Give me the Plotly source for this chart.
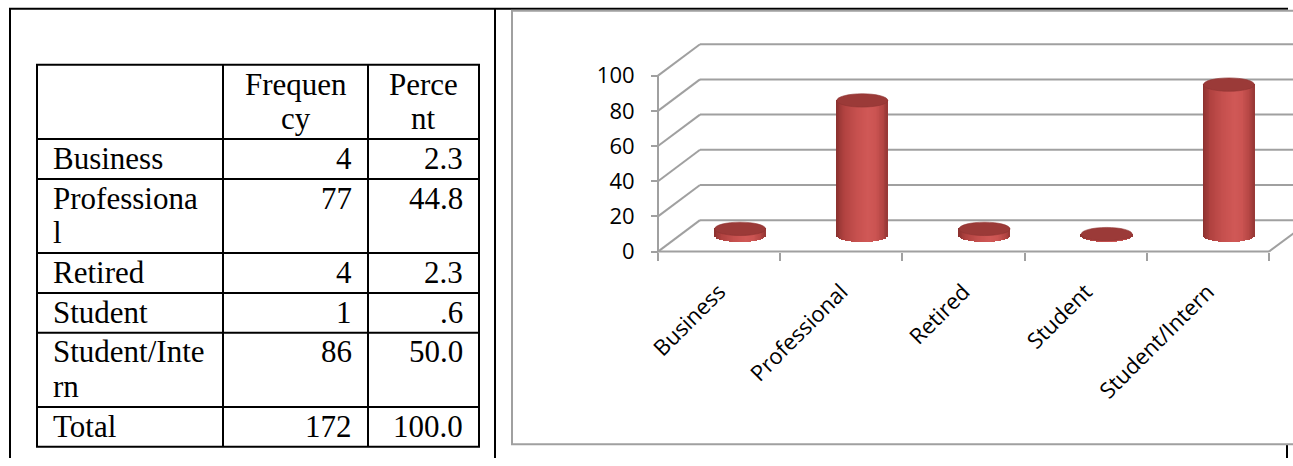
import numpy as np
import plotly.graph_objects as go

# ---- data ---------------------------------------------------------------
categories = ["Business", "Professional", "Retired", "Student", "Student/Intern"]
frequency = [4, 77, 4, 1, 86]
percent = [2.3, 44.8, 2.3, 0.6, 50.0]
y_ticks = [0, 20, 40, 60, 80, 100]

# cell text as it wraps inside the narrow table columns
header_lines = [[], ["Frequen", "cy"], ["Perce", "nt"]]
row_label_lines = [["Business"], ["Professiona", "l"], ["Retired"], ["Student"],
                   ["Student/Inte", "rn"], ["Total"]]

W, H = 1293, 466


def fx(px):
    return px / W


def fy(py):
    return 1 - py / H


def fmt_pct(v):
    s = f"{v:.1f}"
    return s[1:] if s.startswith("0.") else s


freq_text = [str(v) for v in frequency] + [str(sum(frequency))]
pct_text = [fmt_pct(v) for v in percent] + [fmt_pct(round(sum(percent), 1))]

fig = go.Figure()
shapes = []
annotations = []

# ---- page frame ------------------------------------------------------------
BLACK = "#000000"
for x0, y0, x1, y1 in [(9, 9, 1288, 9), (10, 9, 10, H), (495, 9, 495, H), (1287, 452, 1287, H)]:
    shapes.append(dict(type="line", xref="paper", yref="paper", x0=fx(x0), y0=fy(y0),
                       x1=fx(x1), y1=fy(y1), line=dict(color=BLACK, width=2)))

# ---- frequency table -------------------------------------------------------
TAB_FONT = dict(family="Liberation Serif, Times New Roman, serif", size=31, color="#000000")
col_edges = [37, 223, 368, 479]
LINE_STEP = 35
rows = [header_lines] + [[lbl, [f], [p]] for lbl, f, p in zip(row_label_lines, freq_text, pct_text)]

row_edges = [66.0]
for r in rows:
    n = max(len(c) for c in r)
    row_edges.append(row_edges[-1] + 5.5 + LINE_STEP * n)

for y in row_edges:
    shapes.append(dict(type="line", xref="paper", yref="paper", x0=fx(col_edges[0] - 1), x1=fx(col_edges[-1] + 1),
                       y0=fy(y), y1=fy(y), line=dict(color=BLACK, width=2)))
for x in col_edges:
    shapes.append(dict(type="line", xref="paper", yref="paper", x0=fx(x), x1=fx(x),
                       y0=fy(row_edges[0]), y1=fy(row_edges[-1]), line=dict(color=BLACK, width=2)))


def add_cell(lines, top, x, anchor):
    for k, t in enumerate(lines):
        base = top + 30 + LINE_STEP * k
        annotations.append(dict(text=t, xref="paper", yref="paper", x=fx(x), y=fy(base - 0.3375 * TAB_FONT["size"]),
                                xanchor=anchor, yanchor="middle", showarrow=False, font=TAB_FONT))


for i, r in enumerate(rows):
    top = row_edges[i]
    if i == 0:
        add_cell(r[1], top, (col_edges[1] + col_edges[2]) / 2, "center")
        add_cell(r[2], top, (col_edges[2] + col_edges[3]) / 2, "center")
    else:
        add_cell(r[0], top, 51, "left")
        add_cell(r[1], top, col_edges[2] - 14, "right")
        add_cell(r[2], top, col_edges[3] - 14, "right")

# ---- 3-D cylinder chart ------------------------------------------------------
GRID = "#a0a0a0"
# chart area border
shapes.append(dict(type="rect", xref="paper", yref="paper", x0=fx(512), x1=fx(1310), y0=fy(452), y1=fy(11),
                   line=dict(color=GRID, width=2), fillcolor="rgba(0,0,0,0)"))

X0_PX, CAT_PX = 658, 122.2        # front-left corner and category width
Y0_PX, UNIT_PX = 256, 1.79        # front floor edge and pixels per value unit
DEPTH_X = 42 / CAT_PX             # oblique depth offset, in axis units
DEPTH_Y = 32 / UNIT_PX
PLOT_L, PLOT_R, PLOT_T, PLOT_B = 640, 1293, 30, 262

x_range = [-0.5 - (X0_PX - PLOT_L) / CAT_PX, -0.5 + (PLOT_R - X0_PX) / CAT_PX]
y_range = [-(PLOT_B - Y0_PX) / UNIT_PX, (Y0_PX - PLOT_T) / UNIT_PX]

n_cat = len(categories)
x_left, x_right = -0.5, n_cat - 0.5


def dline(x0, y0, x1, y1):
    shapes.append(dict(type="line", xref="x", yref="y", x0=x0, y0=y0, x1=x1, y1=y1,
                       layer="below", line=dict(color=GRID, width=2)))


# walls: side-wall diagonals and back-wall gridlines
for v in y_ticks:
    dline(x_left, v, x_left + DEPTH_X, v + DEPTH_Y)
    dline(x_left + DEPTH_X, v + DEPTH_Y, x_right + DEPTH_X, v + DEPTH_Y)
# value axis line, floor front edge and floor right edge
dline(x_left, 0, x_left, y_ticks[-1])
dline(x_left, 0, x_right, 0)
dline(x_right, 0, x_right + DEPTH_X, DEPTH_Y)

# cylinders drawn as thin shaded vertical strips sitting at mid depth
RX = 25.5 / CAT_PX                # cylinder radius (axis units)
RY = 6.8 / UNIT_PX                # ellipse half-height (value units)
CX = DEPTH_X / 2
BASE = DEPTH_Y / 2
N_STRIP = 60

stops_u = [-1.0, -0.7, -0.2, 0.25, 0.55, 0.85, 1.0]
stops_c = np.array([[138, 48, 46], [176, 66, 64], [198, 80, 78], [208, 88, 86],
                    [203, 84, 82], [178, 68, 66], [150, 56, 54]], dtype=float)


def shade(u):
    rgb = [np.interp(u, stops_u, stops_c[:, k]) for k in range(3)]
    return "rgb({:.0f},{:.0f},{:.0f})".format(*rgb)


step = 2 * RX / N_STRIP
for j in range(N_STRIP):
    u = -1 + (j + 0.5) * 2 / N_STRIP
    sag = RY * np.sqrt(max(0.0, 1 - u * u))
    w = step * 1.6
    fig.add_trace(go.Bar(
        x=categories,
        y=[v + sag for v in frequency],
        base=BASE - sag,
        width=w,
        offset=CX + u * RX - w / 2,
        marker=dict(color=shade(u), line=dict(width=0)),
        hoverinfo="skip", showlegend=False,
    ))

# top caps of the cylinders
for i, v in enumerate(frequency):
    shapes.append(dict(type="circle", xref="x", yref="y",
                       x0=i + CX - RX, x1=i + CX + RX,
                       y0=BASE + v - RY, y1=BASE + v + RY,
                       fillcolor="#9b3a38", line=dict(color="#8e3432", width=0.6), layer="above"))

AX_FONT = dict(family="Open Sans, sans-serif", size=22, color="#000000")

fig.update_layout(
    width=W, height=H,
    margin=dict(l=0, r=0, t=0, b=0),
    paper_bgcolor="#ffffff", plot_bgcolor="rgba(0,0,0,0)",
    barmode="overlay", bargap=0,
    shapes=shapes, annotations=annotations,
    showlegend=False,
    xaxis=dict(type="category", categoryorder="array", categoryarray=categories,
               domain=[fx(PLOT_L), 1], range=x_range, anchor="free", position=fy(Y0_PX),
               showgrid=False, zeroline=False, showline=False,
               ticks="outside", tickson="boundaries", ticklen=8, tickwidth=2, tickcolor=GRID,
               tickangle=-45, tickfont=AX_FONT, ticklabelstandoff=22, fixedrange=True),
    yaxis=dict(domain=[fy(PLOT_B), fy(PLOT_T)], range=y_range, anchor="free", position=fx(X0_PX),
               tickvals=y_ticks, showgrid=False, zeroline=False, showline=False,
               ticks="outside", ticklen=7, tickwidth=2, tickcolor=GRID,
               tickfont=AX_FONT, ticklabelstandoff=12, fixedrange=True),
)

fig.write_html("out.html")
